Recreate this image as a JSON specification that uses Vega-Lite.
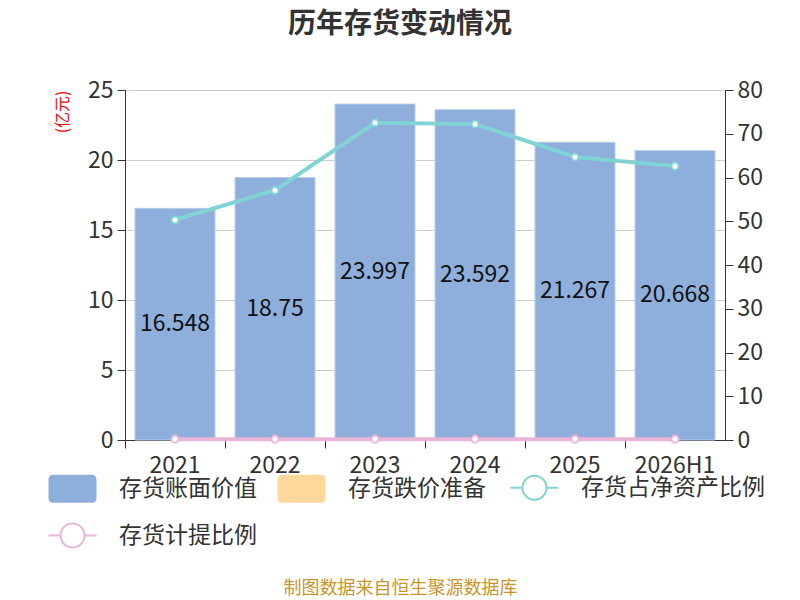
{
  "$schema": "https://vega.github.io/schema/vega-lite/v6.json",
  "autosize": {"type": "none"},
  "padding": {"left": 125, "top": 90, "right": 75, "bottom": 160},
  "width": 600,
  "height": 350,
  "title": {
    "text": "历年存货变动情况",
    "font": "Noto Sans CJK SC",
    "fontSize": 28,
    "fontWeight": "bold",
    "color": "#333333",
    "anchor": "middle",
    "dx": -25,
    "offset": 40
  },
  "datasets": {
    "inv": [
      {"year": "2021", "series": "存货账面价值", "value": 16.548},
      {"year": "2022", "series": "存货账面价值", "value": 18.75},
      {"year": "2023", "series": "存货账面价值", "value": 23.997},
      {"year": "2024", "series": "存货账面价值", "value": 23.592},
      {"year": "2025", "series": "存货账面价值", "value": 21.267},
      {"year": "2026H1", "series": "存货账面价值", "value": 20.668}
    ],
    "ratio": [
      {"year": "2021", "series": "存货占净资产比例", "value": 50.3},
      {"year": "2022", "series": "存货占净资产比例", "value": 57.1},
      {"year": "2023", "series": "存货占净资产比例", "value": 72.5},
      {"year": "2024", "series": "存货占净资产比例", "value": 72.2},
      {"year": "2025", "series": "存货占净资产比例", "value": 64.7},
      {"year": "2026H1", "series": "存货占净资产比例", "value": 62.6},
      {"year": "2021", "series": "存货计提比例", "value": 0.2},
      {"year": "2022", "series": "存货计提比例", "value": 0.2},
      {"year": "2023", "series": "存货计提比例", "value": 0.2},
      {"year": "2024", "series": "存货计提比例", "value": 0.2},
      {"year": "2025", "series": "存货计提比例", "value": 0.2},
      {"year": "2026H1", "series": "存货计提比例", "value": 0.2}
    ]
  },
  "config": {
    "view": {"stroke": null},
    "font": "Noto Sans CJK SC",
    "axis": {
      "labelFont": "Noto Sans CJK SC",
      "labelFontSize": 23,
      "labelColor": "#333333",
      "domainColor": "#333333",
      "tickColor": "#333333",
      "tickSize": 8,
      "gridColor": "#cccccc",
      "titleFont": "Noto Sans CJK SC",
      "titleFontWeight": "normal"
    }
  },
  "encoding": {
    "color": {
      "field": "series",
      "type": "nominal",
      "scale": {
        "domain": ["存货账面价值", "存货跌价准备", "存货占净资产比例", "存货计提比例"],
        "range": ["#8eaedb", "#fed89b", "#80d4d4", "#e9b6da"]
      },
      "legend": {
        "title": null,
        "orient": "none",
        "legendX": -76,
        "legendY": 386,
        "columns": 3,
        "direction": "horizontal",
        "symbolSize": 2304,
        "symbolOffset": 12,
        "labelFontSize": 23,
        "labelColor": "#333333",
        "labelFont": "Noto Sans CJK SC",
        "labelOffset": 35,
        "labelLimit": 300,
        "columnPadding": 20,
        "rowPadding": 15,
        "encode": {
          "symbols": {
            "update": {
              "shape": {"signal": "indexof(['存货账面价值','存货跌价准备'], datum.value) >= 0 ? 'M-0.8,-0.58L0.8,-0.58Q1,-0.58,1,-0.38L1,0.38Q1,0.58,0.8,0.58L-0.8,0.58Q-1,0.58,-1,0.38L-1,-0.38Q-1,-0.58,-0.8,-0.58Z' : 'M-1,0L-0.5,0M0.5,0L1,0M-0.5,0A0.5,0.5,0,1,1,0.5,0A0.5,0.5,0,1,1,-0.5,0Z'"},
              "fillOpacity": {"signal": "indexof(['存货账面价值','存货跌价准备'], datum.value) >= 0 ? 1 : 0"},
              "strokeWidth": {"signal": "indexof(['存货账面价值','存货跌价准备'], datum.value) >= 0 ? 0 : 2"},
              "size": {"value": 2304},
              "opacity": {"value": 1},
              "strokeOpacity": {"value": 1}
            }
          }
        }
      }
    }
  },
  "layer": [
    {
      "data": {"name": "inv"},
      "mark": {"type": "bar", "width": {"band": 0.8}, "stroke": "#b9cdea", "strokeWidth": 1},
      "encoding": {
        "x": {
          "field": "year",
          "type": "ordinal",
          "sort": null,
          "scale": {"paddingInner": 0, "paddingOuter": 0},
          "axis": {
            "labelAngle": 0,
            "bandPosition": 0,
            "grid": false,
            "labelPadding": 6,
            "labelBaseline": "top",
            "title": "制图数据来自恒生聚源数据库",
            "titleColor": "#c8952c",
            "titleFontSize": 18,
            "titleX": 275,
            "titleY": 148,
            "titleBaseline": "middle"
          }
        },
        "y": {
          "field": "value",
          "type": "quantitative",
          "scale": {"domain": [0, 25]},
          "axis": {
            "values": [0, 5, 10, 15, 20, 25],
            "grid": true,
            "labelPadding": 4,
            "title": "(亿元)",
            "titleColor": "#ff0000",
            "titleFontSize": 16,
            "titleAngle": -90,
            "titleX": -63,
            "titleY": 0,
            "titleAlign": "right",
            "titleBaseline": "middle"
          }
        }
      }
    },
    {
      "data": {"name": "inv"},
      "mark": {"type": "text", "fontSize": 23, "baseline": "middle", "font": "Noto Sans CJK SC"},
      "encoding": {
        "x": {"field": "year", "type": "ordinal", "sort": null},
        "y": {"field": "value", "type": "quantitative", "scale": {"domain": [0, 50]}, "axis": null},
        "text": {"field": "value", "type": "nominal"},
        "color": {"value": "#111111"}
      }
    },
    {
      "data": {"name": "ratio"},
      "encoding": {
        "x": {"field": "year", "type": "ordinal", "sort": null},
        "y": {
          "field": "value",
          "type": "quantitative",
          "scale": {"domain": [0, 80]},
          "axis": {
            "orient": "right",
            "values": [0, 10, 20, 30, 40, 50, 60, 70, 80],
            "grid": false,
            "labelPadding": 4,
            "title": "(%)",
            "titleColor": "#ff0000",
            "titleFontSize": 16,
            "titleAngle": 90,
            "titleX": 678,
            "titleY": 0,
            "titleAlign": "left",
            "titleBaseline": "middle"
          }
        }
      },
      "layer": [
        {"mark": {"type": "line", "strokeWidth": 4}},
        {"mark": {"type": "point", "filled": false, "fill": "white", "fillOpacity": 1, "opacity": 1, "strokeWidth": 2, "size": 50}}
      ]
    }
  ],
  "resolve": {"scale": {"y": "independent"}, "axis": {"y": "independent"}}
}
